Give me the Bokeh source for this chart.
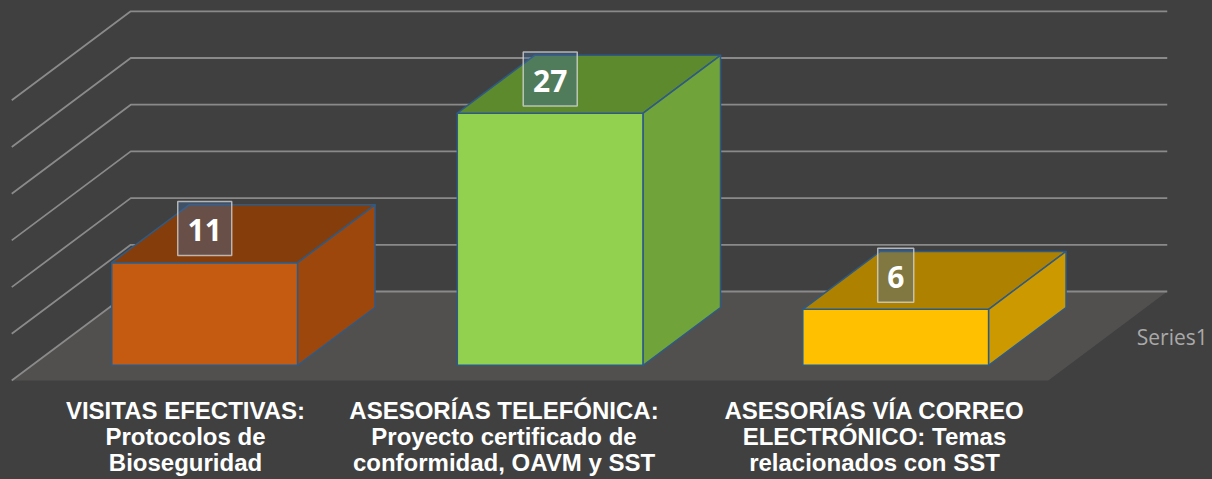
from bokeh.plotting import figure
from bokeh.models import Range1d, ColumnDataSource
from bokeh.embed import file_html
from bokeh.resources import INLINE
from bokeh.core.properties import value

# ---------------- data ----------------
categories = [
    "VISITAS EFECTIVAS:\nProtocolos de\nBioseguridad",
    "ASESORÍAS TELEFÓNICA:\nProyecto certificado de\nconformidad, OAVM y SST",
    "ASESORÍAS VÍA CORREO\nELECTRÓNICO: Temas\nrelacionados con SST",
]
values = [11, 27, 6]
series_name = "Series1"
grid_ticks = [0, 5, 10, 15, 20, 25, 30]

# ---------------- style ----------------
front_colors = ["#C55A11", "#92D050", "#FFC000"]
top_colors = ["#853D0B", "#5E8A2E", "#AE8200"]
side_colors = ["#9D470D", "#71A33B", "#CC9A00"]
label_nudge_px = [1, -26, -1]

BG = "#404040"
FLOOR = "#524F4F"
GRID = "#8A8A8A"
EDGE = "#2E5A86"

W, H = 1212, 479
PX_X = 345.5      # pixels per category
PX_Y = 9.34       # pixels per value unit
X0_PX = 184       # px from left edge to category 0 (depth 0)
Y0_PX = 99        # px from bottom edge to value 0 (depth 0)
DX = 119 / PX_X   # oblique shift per unit of depth (x)
DY = 89 / PX_Y    # oblique shift per unit of depth (y)
HW = 0.269        # bar half width
ZF, ZB = 0.17, 0.82  # bar front/back depth
LABEL_LIFT = 3.66


def proj(x, v, z):
    return x + z * DX, v + z * DY


def poly(points):
    xs, ys = [], []
    for (x, v, z) in points:
        px, py = proj(x, v, z)
        xs.append(px)
        ys.append(py)
    return xs, ys


n = len(categories)
x_start = -X0_PX / PX_X
y_start = -Y0_PX / PX_Y

p = figure(
    width=W, height=H,
    x_range=Range1d(x_start, x_start + W / PX_X),
    y_range=Range1d(y_start, y_start + H / PX_Y),
    x_axis_type=None, y_axis_type=None,
    output_backend="svg", toolbar_location=None,
    min_border=0, outline_line_color=None,
    background_fill_color=BG, border_fill_color=BG,
)
p.grid.visible = False

# floor
fx, fy = poly([(-0.5, 0, 0), (n - 0.5, 0, 0), (n - 0.5, 0, 1), (-0.5, 0, 1)])
p.patch(fx, fy, fill_color=FLOOR, line_color=None)

# gridlines on back wall and side wall
gxs, gys = [], []
for t in grid_ticks:
    xs, ys = poly([(-0.5, t, 0), (-0.5, t, 1), (n - 0.5, t, 1)])
    gxs.append(xs)
    gys.append(ys)
p.multi_line(gxs, gys, line_color=GRID, line_width=1.8)

# bars
for i, v in enumerate(values):
    faces = [
        ([(i - HW, 0, ZF), (i + HW, 0, ZF), (i + HW, v, ZF), (i - HW, v, ZF)], front_colors[i]),
        ([(i - HW, v, ZF), (i + HW, v, ZF), (i + HW, v, ZB), (i - HW, v, ZB)], top_colors[i]),
        ([(i + HW, 0, ZF), (i + HW, 0, ZB), (i + HW, v, ZB), (i + HW, v, ZF)], side_colors[i]),
    ]
    for pts, col in faces:
        xs, ys = poly(pts)
        p.patch(xs, ys, fill_color=col, line_color=EDGE, line_width=1.5, line_join="round")

# data labels
lx, ly, lt, bw = [], [], [], []
for i, v in enumerate(values):
    x, y = proj(i, v, ZF)
    lx.append(x)
    ly.append(y + LABEL_LIFT)
    lt.append(str(v))
    bw.append(18 + 18 * len(str(v)))
lsrc = ColumnDataSource(dict(x=lx, y=ly, t=lt, bw=bw))
p.rect("x", "y", width="bw", height=54, width_units="screen", height_units="screen",
       source=lsrc, fill_color="#41699A", fill_alpha=0.42,
       line_color="#D9D9D9", line_alpha=0.75, line_width=1.5)
p.text("x", "y", text="t", source=lsrc, text_color="white",
       text_font=value("Open Sans"), text_font_style="bold", text_font_size="30px",
       text_align="center", text_baseline="middle", y_offset=2)

# category labels
cx, cy, ct, cyo, cxo = [], [], [], [], []
for i, lab in enumerate(categories):
    for j, line in enumerate(lab.split("\n")):
        cx.append(i)
        cy.append(0)
        ct.append(line)
        cyo.append(30 + 26 * j)
        cxo.append(label_nudge_px[i])
csrc = ColumnDataSource(dict(x=cx, y=cy, t=ct, yo=cyo, xo=cxo))
p.text("x", "y", text="t", source=csrc, x_offset="xo", y_offset="yo",
       text_color="white", text_font=value("Liberation Sans"), text_font_style="bold",
       text_font_size="24px", text_align="center", text_baseline="alphabetic")

# series (depth axis) label
sx, sy = proj(n - 0.5, 0, 0.5)
p.text([sx], [sy], text=[series_name], x_offset=29, y_offset=1,
       text_color="#A9A9A9", text_font=value("Open Sans"), text_font_size="21px",
       text_align="left", text_baseline="middle")

html = file_html(p, INLINE)
html = html.replace("<head>", "<head><style>html,body{background:#404040;}</style>", 1)
open("out.html", "w").write(html)
